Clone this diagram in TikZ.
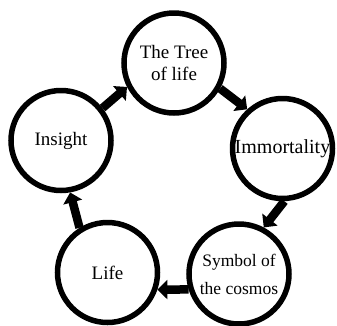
\documentclass[tikz,border=0pt]{standalone}
\usepackage{fontspec}
\setmainfont{Liberation Serif}
\usetikzlibrary{arrows.meta}
\tikzset{
  ring/.style={circle, draw=black, line width=5.5pt, minimum size=100pt, inner sep=0pt, align=center, font=\fontsize{19}{22}\selectfont},
  flow/.style={line width=8.5pt, -{Triangle[length=10pt,width=19pt]}}
}
\begin{document}
\begin{tikzpicture}[x=1pt,y=-1pt]
\useasboundingbox (0,0) rectangle (337,325);
\node[ring] (tree) at (174,63) {The Tree\\of life};
\node[ring, font=\fontsize{20}{22}\selectfont] (imm) at (282.5,148.5) {Immortality};
\node[ring] (ins) at (61,140.5) {Insight};
\node[ring] (life) at (107.5,272.5) {Life};
\node[ring, font=\fontsize{17.5}{28}\selectfont] (sym) at (239,274) {Symbol of\\the cosmos};
\draw[flow] (ins.38) -- (tree.207);
\draw[flow] (tree.-29) -- (imm.132);
\draw[flow] (imm.272) -- (sym.62);
\draw[flow] (sym.197) -- (life.341);
\draw[flow] (life.122) -- (ins.280);
\end{tikzpicture}
\end{document}
